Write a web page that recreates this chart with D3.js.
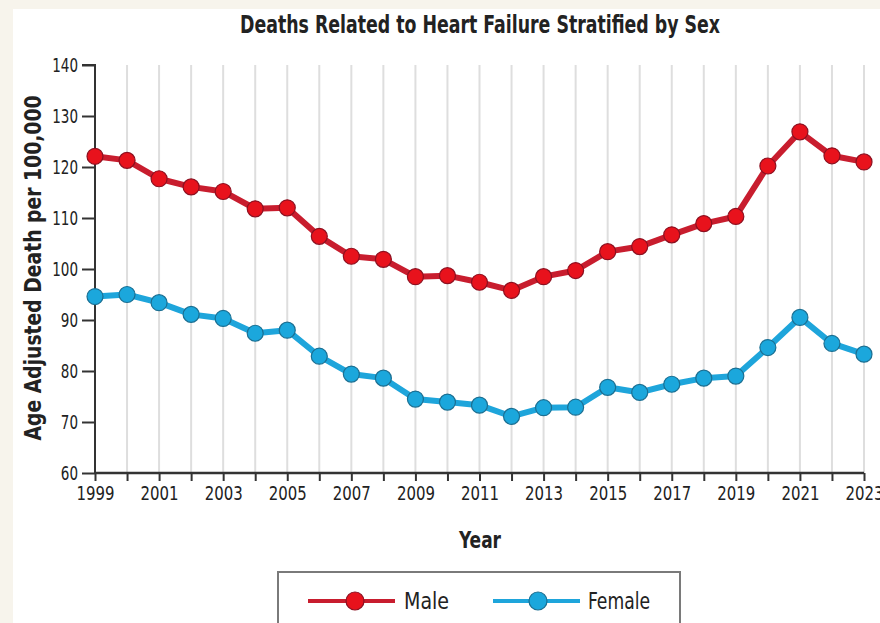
<!DOCTYPE html>
<html>
<head>
<meta charset="utf-8">
<script src="https://cdn.jsdelivr.net/npm/d3@7"></script>
<style>
  html, body { margin: 0; padding: 0; background: #f7f4ec; }
  svg { display: block; }
  text { font-family: "Liberation Sans Narrow", "DejaVu Sans Condensed", "Roboto Condensed", sans-serif; }
</style>
</head>
<body>
<svg id="chart" width="880" height="623"></svg>
<script>
const years = d3.range(1999, 2024);
const maleValues = [122.1, 121.3, 117.7, 116.1, 115.2, 111.8, 112.0, 106.4, 102.5, 101.9,
  98.5, 98.7, 97.4, 95.8, 98.5, 99.7, 103.4, 104.4, 106.7, 108.9, 110.3, 120.2, 126.9, 122.2, 121.0];
const femaleValues = [94.6, 95.0, 93.4, 91.1, 90.3, 87.4, 88.0, 82.9, 79.4, 78.6,
  74.5, 73.9, 73.3, 71.1, 72.8, 72.9, 76.8, 75.8, 77.4, 78.6, 79.0, 84.6, 90.5, 85.4, 83.3];
const yTicks = [60, 70, 80, 90, 100, 110, 120, 130, 140];
const xTickLabels = [1999, 2001, 2003, 2005, 2007, 2009, 2011, 2013, 2015, 2017, 2019, 2021, 2023];
const seriesNames = ["Male", "Female"];
const titleText = "Deaths Related to Heart Failure Stratified by Sex";
const xTitle = "Year";
const yTitle = "Age Adjusted Death per 100,000";

(function () {
const svg = d3.select("#chart");
// white panel
svg.append("rect").attr("x", 13).attr("y", 9).attr("width", 880 - 13).attr("height", 623 - 9).attr("fill", "#ffffff");

const pL = 95, pR = 864, pT = 65, pB = 473;
const x = d3.scaleLinear().domain([1999, 2023]).range([pL, pR]);
const y = d3.scaleLinear().domain([60, 140]).range([pB, pT]);

// gridlines
svg.append("g").selectAll("line").data(years.slice(1)).join("line")
  .attr("x1", d => x(d)).attr("x2", d => x(d))
  .attr("y1", pT).attr("y2", pB)
  .attr("stroke", "#dedede").attr("stroke-width", 2);

// y axis
const yAxis = d3.axisLeft(y).tickValues(yTicks).tickSize(13).tickPadding(4);
const gy = svg.append("g").attr("transform", `translate(${pL},0)`).call(yAxis);
gy.select(".domain").attr("stroke", "#333").attr("stroke-width", 2).attr("d", `M-13,${pT}H0V${pB}`);
gy.selectAll(".tick line").attr("stroke", "#333").attr("stroke-width", 2);
gy.selectAll(".tick text").attr("font-size", 19).attr("fill", "#222")
  .attr("textLength", d => String(d).length * 8.6).attr("lengthAdjust", "spacingAndGlyphs");

// x axis
const xAxis = d3.axisBottom(x).tickValues(years).tickSize(8).tickFormat(d => xTickLabels.includes(d) ? d : "").tickPadding(6);
const gx = svg.append("g").attr("transform", `translate(0,${pB})`).call(xAxis);
gx.select(".domain").attr("stroke", "#333").attr("stroke-width", 2.5).attr("d", `M${pL},0H${pR}`);
gx.selectAll(".tick line").attr("stroke", "#333").attr("stroke-width", 2);
gx.selectAll(".tick text").attr("font-size", 19).attr("fill", "#222")
  .attr("textLength", d => xTickLabels.includes(d) ? 38 : null).attr("lengthAdjust", "spacingAndGlyphs");

// lines and markers
const series = [
  { name: seriesNames[0], values: maleValues, line: "#c81d2e", fill: "#e8121c", stroke: "#8c1020" },
  { name: seriesNames[1], values: femaleValues, line: "#1ea5db", fill: "#1ba7dc", stroke: "#1b6f92" }
];
const lineGen = d3.line().x((d, i) => x(years[i])).y(d => y(d));
series.forEach(s => {
  svg.append("path").datum(s.values).attr("d", lineGen)
    .attr("fill", "none").attr("stroke", s.line).attr("stroke-width", 6).attr("stroke-linejoin", "round");
  svg.append("g").selectAll("circle").data(s.values).join("circle")
    .attr("cx", (d, i) => x(years[i])).attr("cy", d => y(d)).attr("r", 8)
    .attr("fill", s.fill).attr("stroke", s.stroke).attr("stroke-width", 1.2);
});

// title
svg.append("text").attr("x", 480).attr("y", 33).attr("text-anchor", "middle")
  .attr("font-size", 24).attr("font-weight", "bold").attr("fill", "#222")
  .attr("textLength", 480).attr("lengthAdjust", "spacingAndGlyphs")
  .text(titleText);
// axis titles
svg.append("text").attr("x", 480).attr("y", 548).attr("text-anchor", "middle")
  .attr("font-size", 23).attr("font-weight", "bold").attr("fill", "#222")
  .attr("textLength", 42).attr("lengthAdjust", "spacingAndGlyphs").text(xTitle);
svg.append("text").attr("transform", "translate(41,268) rotate(-90)").attr("text-anchor", "middle")
  .attr("font-size", 23).attr("font-weight", "bold").attr("fill", "#222")
  .attr("textLength", 345).attr("lengthAdjust", "spacingAndGlyphs")
  .text(yTitle);

// legend
svg.append("rect").attr("x", 278).attr("y", 572).attr("width", 402).attr("height", 70)
  .attr("fill", "#fff").attr("stroke", "#7a7a7a").attr("stroke-width", 2);
const legendItems = [
  { s: series[0], x1: 308, x2: 395, cx: 355, tx: 404, w: 45 },
  { s: series[1], x1: 493, x2: 580, cx: 538, tx: 588, w: 62 }
];
legendItems.forEach(it => {
  svg.append("line").attr("x1", it.x1).attr("x2", it.x2).attr("y1", 601).attr("y2", 601)
    .attr("stroke", it.s.line).attr("stroke-width", 4);
  svg.append("circle").attr("cx", it.cx).attr("cy", 601).attr("r", 9)
    .attr("fill", it.s.fill).attr("stroke", it.s.stroke).attr("stroke-width", 1.2);
  svg.append("text").attr("x", it.tx).attr("y", 609).attr("font-size", 23).attr("fill", "#222")
    .attr("textLength", it.w).attr("lengthAdjust", "spacingAndGlyphs").text(it.s.name);
});
})();
</script>
</body>
</html>
